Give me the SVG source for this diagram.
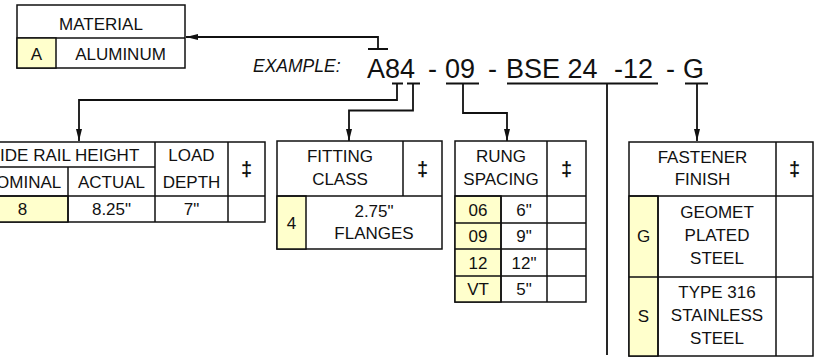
<svg xmlns="http://www.w3.org/2000/svg" width="817" height="360" viewBox="0 0 817 360">
<defs>
<marker id="ah" markerUnits="userSpaceOnUse" markerWidth="13" markerHeight="6" refX="12" refY="3" orient="auto">
<path d="M0,0 L12,3 L0,6 z" fill="#111"/>
</marker>
<style>
.t{font-family:"Liberation Sans",Arial,sans-serif;font-size:17px;fill:#111;text-anchor:middle}
.cell{fill:#fff;stroke:#111;stroke-width:1.5}
.y{fill:#FFFFCC;stroke:#111;stroke-width:1.5}
.ln{stroke:#111;stroke-width:1.5;fill:none}
.cn{stroke:#111;stroke-width:1.8;fill:none}
.code{font-family:"Liberation Sans",Arial,sans-serif;font-size:27px;fill:#111}
.dd{font-family:"Liberation Sans",Arial,sans-serif;font-size:20px;font-weight:bold;fill:#111;text-anchor:middle}
</style>
</defs>
<rect width="817" height="360" fill="#fff"/>

<g id="code">
<text x="253" y="72" font-family="Liberation Sans, Arial, sans-serif" font-size="17.5" font-style="italic" fill="#111">EXAMPLE:</text>
<text class="code" y="78"><tspan x="367">A84</tspan><tspan x="428">-</tspan><tspan x="445">09</tspan><tspan x="488">-</tspan><tspan x="506">BSE 24</tspan><tspan x="614">-12</tspan><tspan x="666">-</tspan><tspan x="683">G</tspan></text>
</g>

<g id="connectors">
<path class="cn" d="M368,49 H388 M378,49 V37 H186" marker-end="url(#ah)"/>
<path class="cn" d="M392,83.5 H403 M397,83.5 V100 H79 V141" marker-end="url(#ah)"/>
<path class="cn" d="M407,83.5 H420 M413,83.5 V110.5 H349 V141" marker-end="url(#ah)"/>
<path class="cn" d="M446,83.5 H479 M463,83.5 V113 H507 V141" marker-end="url(#ah)"/>
<path class="cn" d="M507,83.5 H658 M607,83.5 V355"/>
<path class="cn" d="M685,83.5 H708 M697,83.5 V141" marker-end="url(#ah)"/>
</g>

<g id="material">
<rect class="cell" x="17" y="5" width="168" height="63"/>
<line class="ln" x1="17" y1="38" x2="185" y2="38"/>
<rect class="y" x="17" y="38" width="39" height="30"/>
<text class="t" x="101" y="30">MATERIAL</text>
<text class="t" x="36.5" y="60">A</text>
<text class="t" x="120.5" y="60">ALUMINUM</text>
</g>

<g id="side-rail">
<rect class="cell" x="-23" y="142" width="288" height="80"/>
<rect class="y" x="-23" y="196" width="91" height="26"/>
<path class="ln" d="M-23,167 H155 M-23,196 H265 M68,167 V222 M155,142 V222 M228,142 V222"/>
<text class="t" x="64" y="161">SIDE RAIL HEIGHT</text>
<text class="t" x="22.5" y="188">NOMINAL</text>
<text class="t" x="111.5" y="188">ACTUAL</text>
<text class="t" x="191.5" y="161">LOAD</text>
<text class="t" x="191.5" y="188">DEPTH</text>
<text class="dd" x="246.5" y="176">‡</text>
<text class="t" x="22.5" y="215">8</text>
<text class="t" x="111.5" y="215">8.25"</text>
<text class="t" x="191.5" y="215">7"</text>
</g>

<g id="fitting-class">
<rect class="cell" x="277" y="141" width="165" height="108"/>
<rect class="y" x="277" y="196" width="29" height="53"/>
<path class="ln" d="M277,196 H442 M403,141 V196"/>
<text class="t" x="340" y="162">FITTING</text>
<text class="t" x="340" y="185">CLASS</text>
<text class="dd" x="422.5" y="176">‡</text>
<text class="t" x="291.5" y="229">4</text>
<text class="t" x="374" y="217">2.75"</text>
<text class="t" x="374" y="239">FLANGES</text>
</g>

<g id="rung-spacing">
<rect class="cell" x="455" y="141" width="131" height="161"/>
<rect class="y" x="455" y="196" width="46" height="106"/>
<path class="ln" d="M455,196 H586 M455,223 H586 M455,249 H586 M455,276 H586 M501,196 V302 M547,141 V302"/>
<text class="t" x="501" y="162">RUNG</text>
<text class="t" x="501" y="185">SPACING</text>
<text class="dd" x="566.5" y="176">‡</text>
<text class="t" x="478" y="215.5">06</text>
<text class="t" x="524" y="215.5">6"</text>
<text class="t" x="478" y="242">09</text>
<text class="t" x="524" y="242">9"</text>
<text class="t" x="478" y="268.5">12</text>
<text class="t" x="524" y="268.5">12"</text>
<text class="t" x="478" y="295">VT</text>
<text class="t" x="524" y="295">5"</text>
</g>

<g id="fastener-finish">
<rect class="cell" x="629" y="142" width="184" height="214"/>
<rect class="y" x="629" y="196" width="29" height="160"/>
<path class="ln" d="M629,196 H813 M629,277 H813 M658,196 V356 M776,142 V356"/>
<text class="t" x="702.5" y="163">FASTENER</text>
<text class="t" x="702.5" y="185">FINISH</text>
<text class="dd" x="794.5" y="176">‡</text>
<text class="t" x="643.5" y="242">G</text>
<text class="t" x="717" y="218">GEOMET</text>
<text class="t" x="717" y="241">PLATED</text>
<text class="t" x="717" y="264">STEEL</text>
<text class="t" x="643.5" y="322">S</text>
<text class="t" x="717" y="298">TYPE 316</text>
<text class="t" x="717" y="321">STAINLESS</text>
<text class="t" x="717" y="344">STEEL</text>
</g>
</svg>
